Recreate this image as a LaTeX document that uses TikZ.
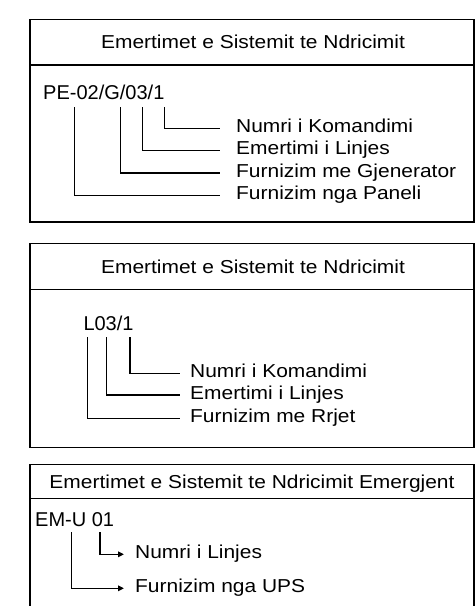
\documentclass[tikz,border=0pt]{standalone}
\usepackage{fontspec}
\setmainfont{Liberation Sans}
\newfontfamily\labfont{Liberation Sans}[FakeStretch=1.12]
\usetikzlibrary{arrows.meta}
\tikzset{
  frame/.style={line width=1.5pt, draw=black},
  conn/.style={line width=1.5pt, draw=black},
  arr/.style={conn, -{Triangle[length=6pt,width=5.5pt]}},
  ttl/.style={anchor=base, inner sep=0pt, font=\labfont\fontsize{18.7}{20}\selectfont},
  code/.style={anchor=base west, inner sep=0pt, font=\fontsize{20}{22}\selectfont},
  lab/.style={anchor=base west, inner sep=0pt, text height=12.5pt, text depth=4.5pt, font=\labfont\fontsize{18.7}{20}\selectfont},
}
\begin{document}
\begin{tikzpicture}[x=1pt,y=-1pt]
\useasboundingbox (0,0) rectangle (476,606);
% ---------- Box 1 ----------
\draw[frame] (30,19.5) rectangle (474,222);
\draw[frame] (30,65) -- (474,65);
\node[ttl] (t1) at (253,48) {Emertimet e Sistemit te Ndricimit};
\node[code] (c1) at (43,99.7) {PE-02/G/03/1};
\coordinate (a1) at (164.7,107);
\coordinate (a2) at (142.3,107);
\coordinate (a3) at (120.3,107);
\coordinate (a4) at (74.3,107);
\node[lab] (l11) at (236,132.3) {Numri i Komandimi};
\node[lab] (l12) at (236,154.5) {Emertimi i Linjes};
\node[lab] (l13) at (236,177) {Furnizim me Gjenerator};
\node[lab] (l14) at (236,199.7) {Furnizim nga Paneli};
\draw[conn, shorten >=16pt] (a1) |- (l11.west);
\draw[conn, shorten >=16pt] (a2) |- (l12.west);
\draw[conn, shorten >=16pt] (a3) |- (l13.west);
\draw[conn, shorten >=16pt] (a4) |- (l14.west);
% ---------- Box 2 ----------
\draw[frame] (30,243.3) rectangle (474,447.3);
\draw[frame] (30,289.3) -- (474,289.3);
\node[ttl] (t2) at (253,273) {Emertimet e Sistemit te Ndricimit};
\node[code] (c2) at (83.3,330) {L03/1};
\coordinate (b1) at (130,337.3);
\coordinate (b2) at (106.7,337.3);
\coordinate (b3) at (87.7,337.3);
\node[lab] (l21) at (190,377.3) {Numri i Komandimi};
\node[lab] (l22) at (190,399) {Emertimi i Linjes};
\node[lab] (l23) at (190,422.3) {Furnizim me Rrjet};
\draw[conn, shorten >=10pt] (b1) |- (l21.west);
\draw[conn, shorten >=10pt] (b2) |- (l22.west);
\draw[conn, shorten >=10pt] (b3) |- (l23.west);
% ---------- Box 3 ----------
\draw[frame] (30,606) -- (30,464.3) -- (474,464.3) -- (474,606);
\draw[frame] (30,498.3) -- (474,498.3);
\node[ttl] (t3) at (252,488) {Emertimet e Sistemit te Ndricimit Emergjent};
\node[code] (c3) at (35,526.7) {EM-U 01};
\coordinate (e1) at (100,532.3);
\coordinate (e2) at (71.7,532.3);
\node[lab] (l31) at (135,558.3) {Numri i Linjes};
\node[lab] (l32) at (135,592.3) {Furnizim nga UPS};
\draw[arr, shorten >=11pt] (e1) |- (l31.west);
\draw[arr, shorten >=11pt] (e2) |- (l32.west);
\end{tikzpicture}
\end{document}
